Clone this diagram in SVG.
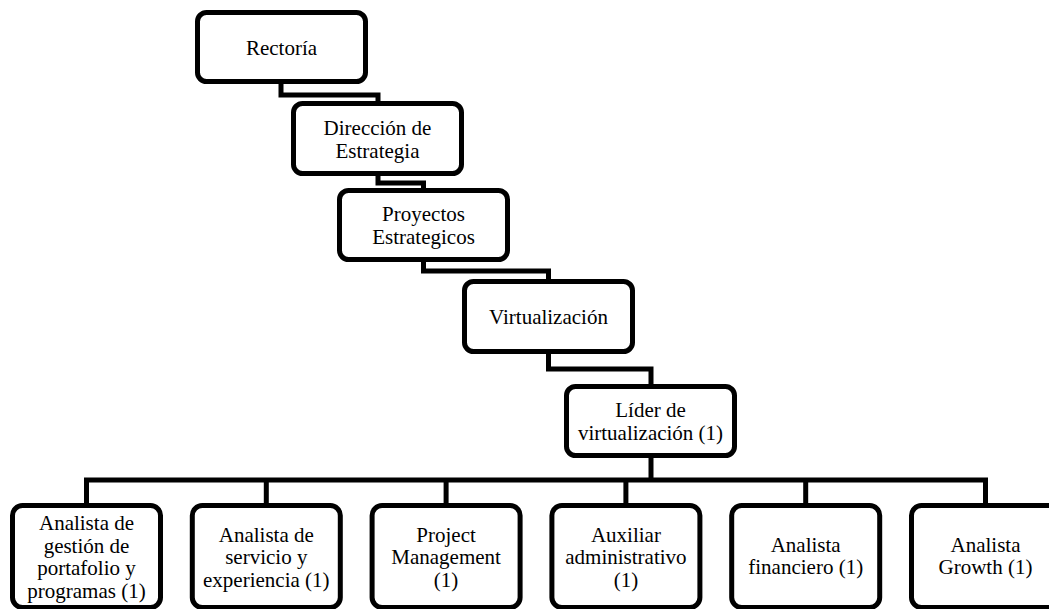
<svg xmlns="http://www.w3.org/2000/svg" width="1049" height="609" viewBox="0 0 1049 609">
<style>
.box{fill:#fff;stroke:#000;stroke-width:5}
.conn{fill:none;stroke:#000;stroke-width:5;stroke-linejoin:miter}
.t{font-family:'Liberation Serif','Times New Roman','DejaVu Serif',serif;font-size:21px;fill:#000;text-anchor:middle}
</style>
<rect width="1049" height="609" fill="#fff"/>
<g id="connectors">
<path class="conn" d="M281,80 V95 H378 V105"/>
<path class="conn" d="M378,172 V183 H423.5 V192"/>
<path class="conn" d="M423.5,259 V271 H548.5 V283"/>
<path class="conn" d="M548.5,350 V369 H651 V388"/>
<path class="conn" d="M651,455 V480"/>
<path class="conn" d="M86.5,507 V480 H985.5 V507"/>
<path class="conn" d="M266.3,480 V507 M446.1,480 V507 M625.9,480 V507 M805.7,480 V507"/>
</g>
<g id="rectoria" class="t">
<rect class="box" x="197.5" y="12.5" width="168" height="69" rx="9"/>
<text x="281.5" y="55">Rectoría</text>
</g>
<g id="direccion" class="t">
<rect class="box" x="293.5" y="103.5" width="168" height="70" rx="9"/>
<text x="377.5" y="134.5">Dirección de</text>
<text x="377.5" y="157.5">Estrategia</text>
</g>
<g id="proyectos" class="t">
<rect class="box" x="339.5" y="190.5" width="168" height="69" rx="9"/>
<text x="423.5" y="220.5">Proyectos</text>
<text x="423.5" y="243.5">Estrategicos</text>
</g>
<g id="virtualizacion" class="t">
<rect class="box" x="464.5" y="281.5" width="168" height="70" rx="9"/>
<text x="548.5" y="324">Virtualización</text>
</g>
<g id="lider" class="t">
<rect class="box" x="566.5" y="386.5" width="168" height="69" rx="9"/>
<text x="650.5" y="417">Líder de</text>
<text x="650.5" y="440">virtualización (1)</text>
</g>
<g id="analista-portafolio" class="t">
<rect class="box" x="12.5" y="505.5" width="148" height="102" rx="10"/>
<text x="86.5" y="530">Analista de</text>
<text x="86.5" y="552.5">gestión de</text>
<text x="86.5" y="575">portafolio y</text>
<text x="86.5" y="597.5">programas (1)</text>
</g>
<g id="analista-servicio" class="t">
<rect class="box" x="192.3" y="505.5" width="148" height="102" rx="10"/>
<text x="266.3" y="541.5">Analista de</text>
<text x="266.3" y="564">servicio y</text>
<text x="266.3" y="586.5">experiencia (1)</text>
</g>
<g id="project-management" class="t">
<rect class="box" x="372.1" y="505.5" width="148" height="102" rx="10"/>
<text x="446.1" y="541.5">Project</text>
<text x="446.1" y="564">Management</text>
<text x="446.1" y="586.5">(1)</text>
</g>
<g id="auxiliar" class="t">
<rect class="box" x="551.9" y="505.5" width="148" height="102" rx="10"/>
<text x="625.9" y="541.5">Auxiliar</text>
<text x="625.9" y="564">administrativo</text>
<text x="625.9" y="586.5">(1)</text>
</g>
<g id="analista-financiero" class="t">
<rect class="box" x="731.7" y="505.5" width="148" height="102" rx="10"/>
<text x="805.7" y="552">Analista</text>
<text x="805.7" y="574">financiero (1)</text>
</g>
<g id="analista-growth" class="t">
<rect class="box" x="911.5" y="505.5" width="148" height="102" rx="10"/>
<text x="985.5" y="552">Analista</text>
<text x="985.5" y="574">Growth (1)</text>
</g>
</svg>
